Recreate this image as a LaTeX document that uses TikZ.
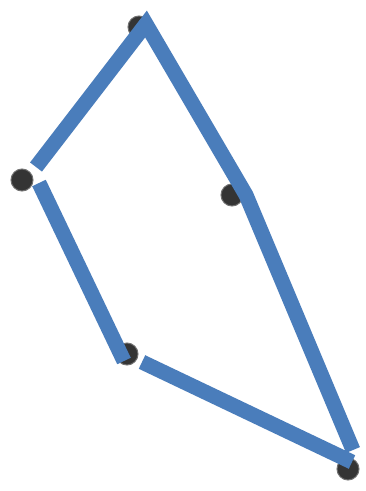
\documentclass[tikz,border=0pt]{standalone}
\definecolor{edgeblue}{RGB}{74,125,187}
\definecolor{dotgray}{RGB}{52,52,52}
\tikzset{
  dotnode/.style={circle,fill=dotgray,minimum size=22pt,inner sep=0pt,draw=dotgray!70,line width=1pt},
  edgeline/.style={draw=edgeblue,line width=15pt,line cap=butt,line join=miter}
}
\begin{document}
\begin{tikzpicture}[x=1pt,y=-1pt]
\useasboundingbox[fill=white] (0,0) rectangle (366,491);
% dots
\node[dotnode] (top) at (139,27) {};
\node[dotnode] (left) at (22,180) {};
\node[dotnode] (mid) at (232,195) {};
\node[dotnode] (low) at (127,354) {};
\node[dotnode] (br) at (348,469) {};
% line end points
\coordinate (apex) at (146,24);
\coordinate (lA) at (36,167);
\coordinate (lB) at (39,183);
\coordinate (lC) at (124,361);
\coordinate (bA) at (142,362);
\coordinate (bB) at (352,462);
\coordinate (kink) at (246,195);
\coordinate (rEnd) at (353,450);
% connectors
\draw[edgeline] (lA) -- (apex) -- (kink) -- (rEnd);
\draw[edgeline] (lB) -- (lC);
\draw[edgeline] (bA) -- (bB);
\end{tikzpicture}
\end{document}
